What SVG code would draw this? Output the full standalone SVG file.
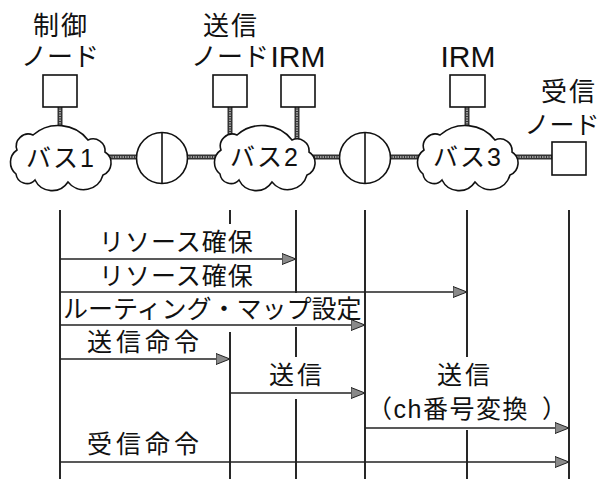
<svg xmlns="http://www.w3.org/2000/svg" width="600" height="479" viewBox="0 0 600 479">
<defs>
<style>
text{font-family:"Liberation Sans","Noto Sans CJK JP",sans-serif;fill:#111}
.lbl{font-size:26px;text-anchor:middle}
.irm{font-size:30px;text-anchor:middle}
.bus{font-size:25px;text-anchor:middle;letter-spacing:2px}
.msg{font-size:25px}
.box{fill:#fff;stroke:#111;stroke-width:1.6}
.cloud{fill:#fff;stroke:#111;stroke-width:1.6}
.bridge{fill:#fff;stroke:#111;stroke-width:1.6}
.life{fill:none;stroke:#111;stroke-width:1.8}
.arrow{fill:none;stroke:#222;stroke-width:1.3;marker-end:url(#ah)}
.linkO{fill:none;stroke:#333;stroke-width:5}
.linkI{fill:none;stroke:#999;stroke-width:2;stroke-dasharray:1.5 1}
</style>
<marker id="ah" markerUnits="userSpaceOnUse" markerWidth="15" markerHeight="12" refX="14" refY="6" orient="auto">
<path d="M0,0.5 L14,6 L0,11.5 Z" fill="#8a8a8a" stroke="#222" stroke-width="1"/>
</marker>
<path id="cloudShape" d="M-43,-8 A12,12 0 0 1 -27,-23 A38,38 0 0 1 28,-18 A12,12 0 0 1 45,-6 A13,13 0 0 1 43,17 A20,20 0 0 1 8,24 A19,19 0 0 1 -25,22 A11,11 0 0 1 -44,16 A15,15 0 0 1 -43,-8 Z"/>
<path id="links" d="M60,107V132 M230,107V145 M297,107V145 M467,107V135 M100,157H140 M183,157H220 M310,157H345 M385,157H423 M512,157H553"/>
</defs>

<g id="connectors">
<use href="#links" class="linkO"/>
<use href="#links" class="linkI"/>
</g>

<g id="control-node">
<text class="lbl" x="61" y="35" letter-spacing="2">制御</text>
<text class="lbl" x="60" y="66">ノード</text>
<rect class="box" x="43" y="75" width="34" height="32"/>
</g>
<g id="send-node">
<text class="lbl" x="231" y="35" letter-spacing="2">送信</text>
<text class="lbl" x="230" y="66">ノード</text>
<rect class="box" x="213" y="75" width="34" height="32"/>
</g>
<g id="irm2">
<text class="irm" x="298" y="67">IRM</text>
<rect class="box" x="281" y="75" width="34" height="32"/>
</g>
<g id="irm3">
<text class="irm" x="468" y="67">IRM</text>
<rect class="box" x="450" y="75" width="35" height="32"/>
</g>
<g id="receive-node">
<text class="lbl" x="569" y="101" letter-spacing="2">受信</text>
<text class="lbl" x="562" y="134" style="font-size:25px">ノード</text>
<rect class="box" x="552" y="142" width="34" height="33"/>
</g>
<g id="bus1">
<use href="#cloudShape" class="cloud" transform="translate(60,158)"/>
<text class="bus" x="61" y="167">バス1</text>
</g>
<g id="bridge1">
<circle class="bridge" cx="162" cy="158" r="25.5"/>
<path class="bridge" d="M162,132.5V183.5"/>
</g>
<g id="bus2">
<use href="#cloudShape" class="cloud" transform="translate(264,158)"/>
<text class="bus" x="265" y="166">バス2</text>
</g>
<g id="bridge2">
<circle class="bridge" cx="365" cy="158" r="25.5"/>
<path class="bridge" d="M365,132.5V183.5"/>
</g>
<g id="bus3">
<use href="#cloudShape" class="cloud" transform="translate(467,158)"/>
<text class="bus" x="468" y="166">バス3</text>
</g>

<g id="lifelines">
<path class="life" d="M60,210V479 M230,210V224 M230,332V479 M296,210V293 M296,327V357 M296,399V479 M365,210V479 M467,210V357 M467,430V479 M569,210V479"/>
</g>

<g id="messages">
<path class="arrow" d="M60,259H296"/>
<path class="arrow" d="M60,292H467"/>
<path class="arrow" d="M60,325H365"/>
<path class="arrow" d="M60,359H230"/>
<path class="arrow" d="M230,393H365"/>
<path class="arrow" d="M365,428H569"/>
<path class="arrow" d="M60,462H569"/>
</g>

<g id="message-labels">
<text class="msg" x="99" y="251" letter-spacing="1">リソース確保</text>
<text class="msg" x="99" y="285" letter-spacing="1">リソース確保</text>
<text class="msg" x="63" y="318">ルーティング・マップ設定</text>
<text class="msg" x="87" y="351" letter-spacing="4">送信命令</text>
<text class="msg" x="269" y="384" letter-spacing="3">送信</text>
<text class="msg" x="437" y="384" letter-spacing="3">送信</text>
<text class="msg" x="367" y="418" letter-spacing="1.5">（ch番号変換<tspan dx="13">）</tspan></text>
<text class="msg" x="87" y="453" letter-spacing="4">受信命令</text>
</g>
</svg>
